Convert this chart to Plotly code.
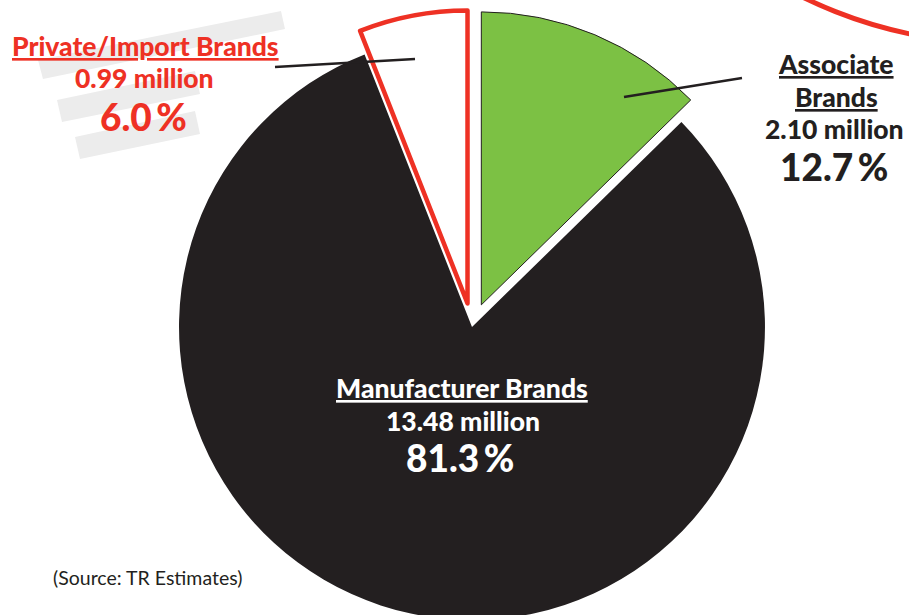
import plotly.graph_objects as go

# ---------------- data ----------------
labels = ["Associate Brands", "Manufacturer Brands", "Private/Import Brands"]
millions = [2.10, 13.48, 0.99]
percent_values = ["12.7", "81.3", "6.0"]
source_note = "(Source: TR Estimates)"

# ---------------- styles ----------------
W, H = 909, 644          # page is photographed at 909x615; bottom of pie runs off-screen
GREEN = "#7cc144"
BLACK = "#231f20"
RED = "#ee3124"
FONT = "Lato"

fig = go.Figure()
fig.add_trace(go.Pie(
    labels=labels,
    values=millions,
    sort=False,
    direction="clockwise",
    rotation=0,
    pull=[0.082, 0, 0.082],
    marker=dict(colors=[GREEN, BLACK, "#ffffff"],
                line=dict(color=[BLACK, BLACK, RED], width=[1, 0, 4.5])),
    textinfo="none",
    hovertemplate="%{label}<br>%{value:.2f} million<br>%{percent}<extra></extra>",
    showlegend=False,
    domain=dict(x=[0.0385, 1.0], y=[0.0, 634 / 644]),
))

def px(x):
    return x / W

def py(y):
    return 1 - y / H

shapes = []
# faint decorative grey bars (top-left)
for path in ["M 38 60 L 281 11 L 285 29 L 43 79 Z",
             "M 57 100 L 195 71 L 200 94 L 62 122 Z",
             "M 75 137 L 195 111 L 200 134 L 80 159 Z"]:
    pts = path.replace("M", "").replace("Z", "").split("L")
    out = []
    for i, p in enumerate(pts):
        xv, yv = [float(v) for v in p.split()]
        out.append(("M " if i == 0 else "L ") + f"{px(xv):.5f},{py(yv):.5f}")
    shapes.append(dict(type="path", xref="paper", yref="paper", path=" ".join(out) + " Z",
                       fillcolor="#ececec", line=dict(width=0), layer="below"))
# red decorative arc (top-right)
cxa, cya, ra = 1000, -404, 447
shapes.append(dict(type="circle", xref="paper", yref="paper",
                   x0=px(cxa - ra), x1=px(cxa + ra), y0=py(cya + ra), y1=py(cya - ra),
                   line=dict(color=RED, width=5), fillcolor="rgba(0,0,0,0)", layer="below"))
# leader lines
shapes.append(dict(type="line", xref="paper", yref="paper", x0=px(275), y0=py(67), x1=px(415), y1=py(59),
                   line=dict(color=BLACK, width=2.5), layer="above"))
shapes.append(dict(type="line", xref="paper", yref="paper", x0=px(624), y0=py(97), x1=px(742), y1=py(78),
                   line=dict(color=BLACK, width=2.5), layer="above"))

ann = []
def txt(x, y, text, size, color, weight=900, xanchor="center"):
    ann.append(dict(x=px(x), y=py(y), xref="paper", yref="paper", text=text,
                    showarrow=False, xanchor=xanchor, yanchor="middle", borderpad=0,
                    font=dict(family=FONT, size=size, color=color, weight=weight)))

TS, MS, PS = 26.5, 26.5, 37
# Private / Import
txt(145, 46, f"<u>{labels[2]}</u>", TS, RED)
txt(144, 78, f"{millions[2]:.2f} million", MS, RED)
txt(143, 116, percent_values[2] + "\u2009%", PS, RED)
# Associate
txt(836, 64, "<u>Associate</u>", TS, BLACK)
txt(836, 97, "<u>Brands</u>", TS, BLACK)
txt(834, 128.5, f"{millions[0]:.2f} million", MS, BLACK)
txt(834, 166, percent_values[0] + "\u2009%", PS, BLACK)
# Manufacturer
txt(462, 388, f"<u>{labels[1]}</u>", TS, "#ffffff")
txt(463, 421, f"{millions[1]:.2f} million", MS, "#ffffff")
txt(460, 458, percent_values[1] + "\u2009%", PS, "#ffffff")
# source
txt(52, 577, source_note, 19.5, BLACK, weight="normal", xanchor="left")

fig.update_layout(
    width=W, height=H,
    margin=dict(l=0, r=0, t=0, b=0),
    paper_bgcolor="#ffffff", plot_bgcolor="#ffffff",
    shapes=shapes, annotations=ann,
    font=dict(family=FONT),
)

post = """
document.documentElement.style.overflow='hidden';
document.body.style.overflow='hidden';
document.body.style.margin='0';
var gd = document.getElementById('{plot_id}');
if (gd && gd.parentElement) { gd.parentElement.style.height='615px'; gd.parentElement.style.overflow='hidden'; }
"""
fig.write_html("out.html", post_script=post, config={"displayModeBar": False})
